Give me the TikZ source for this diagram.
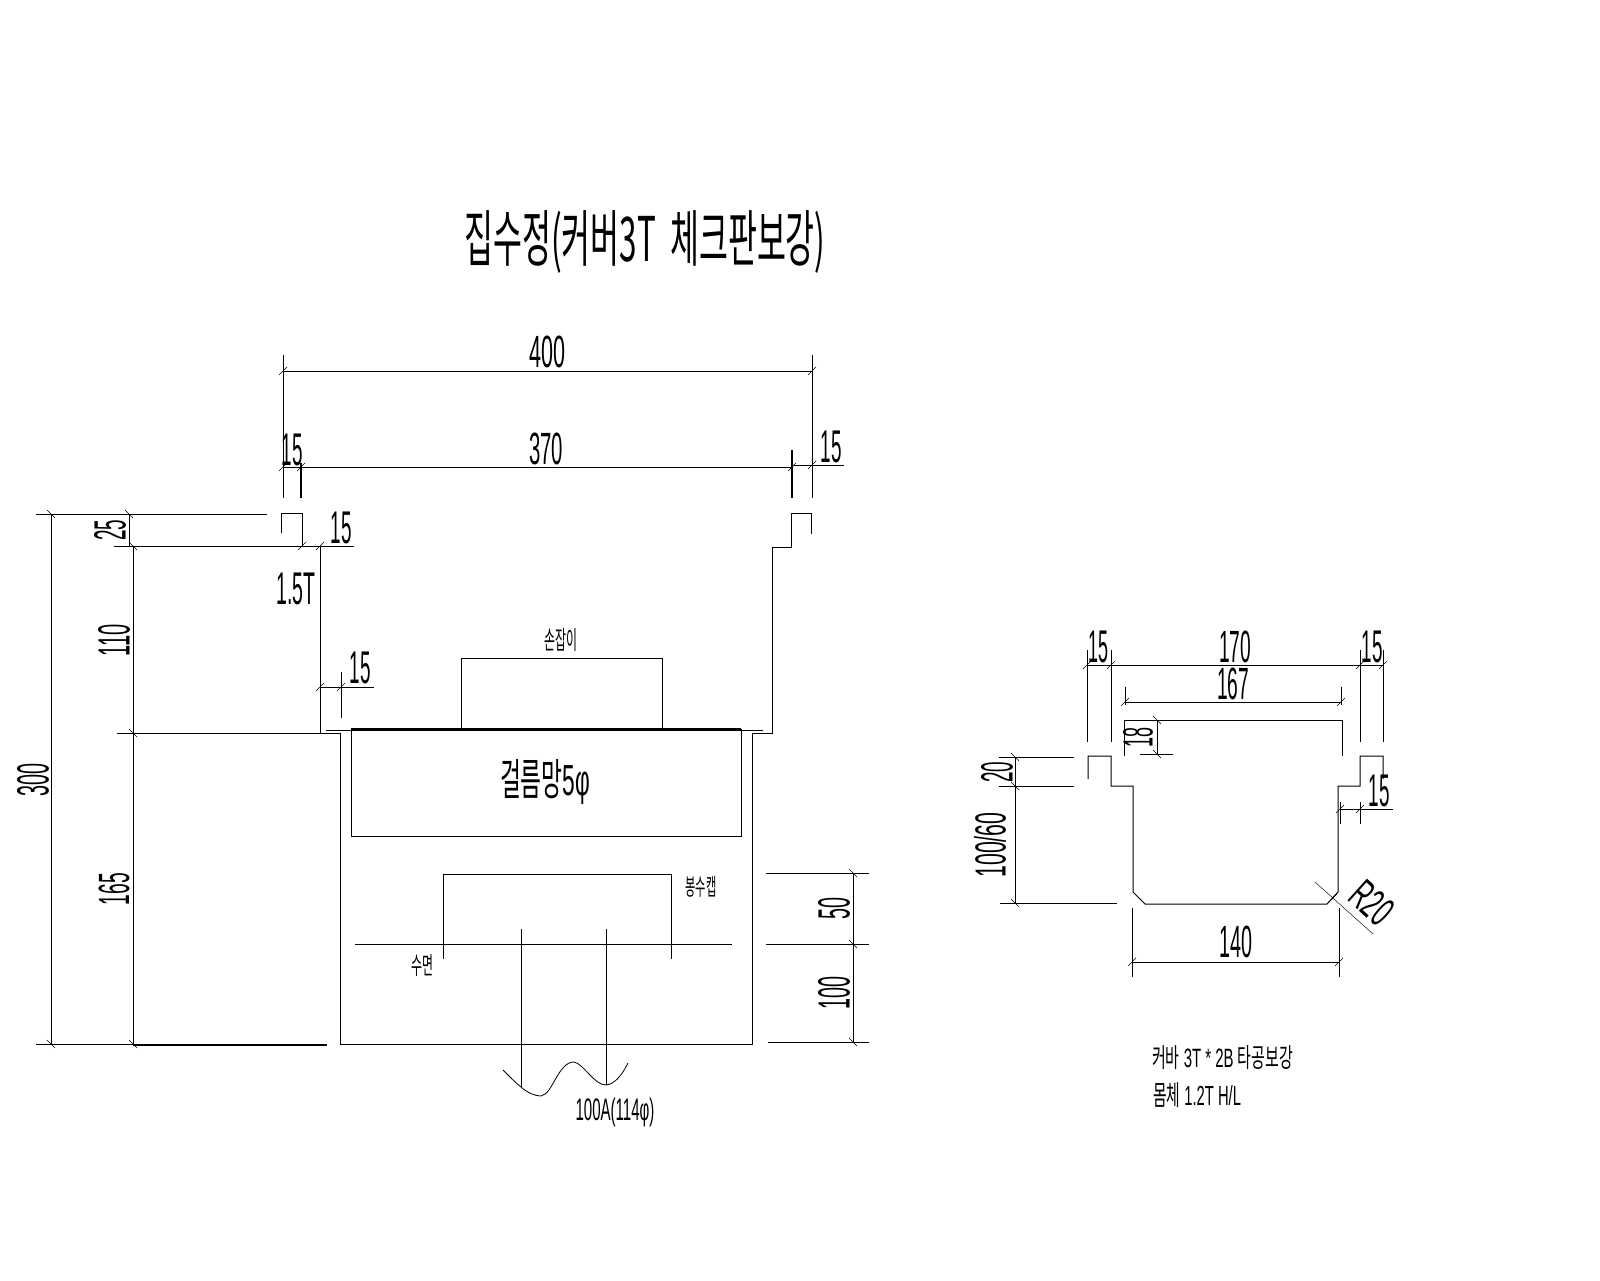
\documentclass[tikz,border=0pt]{standalone}
\usepackage{fontspec}
\setmainfont{Liberation Sans}
\newfontfamily\kr{Noto Sans CJK KR}
\newcommand{\fitt}[3]{\resizebox*{#1pt}{#2pt}{#3}}
\tikzset{
  every node/.style={inner sep=0pt,outer sep=0pt,text=black},
  body/.style={line width=1pt,line join=miter},
  heavy/.style={line width=1.8pt},
  dimline/.style={line width=.9pt},
  tickline/.style={line width=.45pt},
}
\newcommand{\tkh}[1]{\draw[tickline] (#1)+(-4,4)--+(4,-4);}
\newcommand{\tkv}[1]{\draw[tickline] (#1)+(-4,-4)--+(4,4);}
\begin{document}
\begin{tikzpicture}[x=1pt,y=-1pt]
\useasboundingbox[fill=white] (0,0) rectangle (1600,1280);
% title
\node (title) at (645,242) {\fitt{361}{63}{\kr 집수정(커버3T\ \ 체크판보강)}};
% ---- left drawing body
\draw[body] (281,533)--(281,513)--(302,513)--(302,546);
\draw[body] (320,546)--(320,733)--(340,733)--(340,1044)--(752,1044)--(752,733)--(772,733)--(772,547)--(791,547)--(791,513)--(811,513)--(811,534);
\draw[body] (326,730)--(763,730);
\draw[heavy] (351,729)--(741,729);
\draw[body] (351,729)--(351,836)--(741,836)--(741,729);
\draw[body] (461,729)--(461,658)--(662,658)--(662,729);
\draw[body] (443,959)--(443,874)--(671,874)--(671,959);
\draw[body] (355,944)--(732,944);
\draw[body] (521,929)--(521,1087);
\draw[body] (606,929)--(606,1085);
\draw[line width=.8pt] (503,1070) .. controls (512,1079) and (516,1083) .. (521,1087)
  .. controls (528,1093) and (535,1096) .. (541,1096)
  .. controls (553,1094) and (558,1062) .. (574,1062)
  .. controls (584,1064) and (594,1085) .. (606,1085)
  .. controls (615,1084) and (622,1075) .. (628,1063);
\draw[heavy] (133,1045)--(327,1045);
% left dims
\draw[dimline] (36,514)--(267,514);
\draw[dimline] (114,546)--(354,546);
\draw[dimline] (117,733)--(327,733);
\draw[dimline] (51,514)--(51,1044);
\draw[dimline] (36,1044)--(133,1044);
\draw[dimline] (129,514)--(129,546);
\draw[dimline] (133,546)--(133,1044);
\tkv{51,514}\tkv{51,1044}\tkv{129,514}\tkv{133,546}\tkv{133,733}\tkv{133,1044}
\tkh{302,546}\tkh{320,546}
% top dims
\draw[dimline] (283,355)--(283,498);
\draw[dimline] (812,355)--(812,498);
\draw[dimline] (283,371)--(812,371);
\draw[dimline] (283,467)--(301,467);
\draw[dimline] (301,467)--(792,467);
\draw[dimline] (792,465)--(844,465);
\draw[heavy] (301,463)--(301,498);
\draw[heavy] (792,450)--(792,498);
\tkh{283,371}\tkh{812,371}\tkh{283,467}\tkh{301,467}\tkh{792,467}\tkh{812,465}
% small 15
\draw[dimline] (320,687)--(374,687);
\draw[dimline] (341,672)--(341,718);
\tkh{320,687}\tkh{341,687}
% right dims of left drawing
\draw[dimline] (853,873)--(853,1042);
\draw[dimline] (766,873)--(869,873);
\draw[dimline] (766,944)--(869,944);
\draw[dimline] (768,1042)--(869,1042);
\tkv{853,873}\tkv{853,944}\tkv{853,1042}
% labels left
\node (l400) at (547,352) {\fitt{36}{32}{400}};
\node (l370) at (546,449) {\fitt{34}{32}{370}};
\node (l15a) at (292,450) {\fitt{21}{32}{15}};
\node (l15b) at (831,447) {\fitt{21}{32}{15}};
\node (l15c) at (341,528) {\fitt{21}{32}{15}};
\node (l15d) at (360,668) {\fitt{21}{32}{15}};
\node (l15t) at (296,589) {\fitt{39}{32}{1.5T}};
\node[rotate=90] (l25) at (110,530) {\fitt{21}{32}{25}};
\node[rotate=90] (l110) at (114,640) {\fitt{32}{32}{110}};
\node[rotate=90] (l165) at (114,889) {\fitt{32}{31}{165}};
\node[rotate=90] (l300) at (33,780) {\fitt{33}{32}{300}};
\node[rotate=90] (l50) at (834,908) {\fitt{22}{32}{50}};
\node[rotate=90] (l100) at (834,993) {\fitt{33}{32}{100}};
\node (lhandle) at (561,640) {\fitt{33}{23}{\kr 손잡이}};
\node (lscreen) at (545,782) {\fitt{90}{45}{\kr 걸름망\rmfamily 5φ}};
\node (lcap) at (701,887) {\fitt{31}{21}{\kr 봉수캡}};
\node (lwater) at (422,965) {\fitt{22}{22}{\kr 수면}};
\node (lpipe) at (615,1112) {\fitt{79}{29}{100A(114φ)}};
% ---- right drawing body
\draw[body] (1088,779)--(1088,756)--(1111,756)--(1111,786)--(1133,786)--(1133,892)--(1145,904)--(1327,904)--(1338,892)--(1338,786)--(1360,786)--(1360,756)--(1383,756)--(1383,779);
\draw[body] (1124,756)--(1124,720)--(1342,720)--(1342,756);
% right dims
\draw[dimline] (1087,650)--(1087,742);
\draw[dimline] (1111,650)--(1111,742);
\draw[dimline] (1360,650)--(1360,742);
\draw[dimline] (1383,650)--(1383,742);
\draw[dimline] (1087,665)--(1383,665);
\tkh{1087,665}\tkh{1111,665}\tkh{1360,665}\tkh{1383,665}
\draw[dimline] (1125,687)--(1125,705);
\draw[dimline] (1341,687)--(1341,705);
\draw[dimline] (1125,702)--(1341,702);
\tkh{1125,702}\tkh{1341,702}
\draw[dimline] (1173,720)--(1124,720);
\draw[dimline] (1140,754)--(1173,754);
\draw[dimline] (1157,720)--(1157,754);
\tkv{1157,720}\tkv{1157,754}
\draw[dimline] (999,757)--(1074,757);
\draw[dimline] (999,786)--(1074,786);
\draw[dimline] (1000,903)--(1117,903);
\draw[dimline] (1015,757)--(1015,903);
\tkv{1015,757}\tkv{1015,786}\tkv{1015,903}
\draw[dimline] (1132,908)--(1132,977);
\draw[dimline] (1339,908)--(1339,977);
\draw[dimline] (1132,962)--(1339,962);
\tkh{1132,962}\tkh{1339,962}
\draw[dimline] (1340,809)--(1393,809);
\draw[dimline] (1340,802)--(1340,824);
\draw[dimline] (1360,802)--(1360,824);
\tkh{1340,809}\tkh{1360,809}
\draw[tickline] (1315,882)--(1373,934);
\tkh{1333,898}
% labels right
\node (r15a) at (1098,647) {\fitt{20}{32}{15}};
\node (r170) at (1235,647) {\fitt{32}{32}{170}};
\node (r15b) at (1372,647) {\fitt{21}{32}{15}};
\node (r167) at (1233,684) {\fitt{32}{32}{167}};
\node[rotate=90] (r18) at (1138,737) {\fitt{20}{30}{18}};
\node[rotate=90] (r20) at (997,772) {\fitt{21}{32}{20}};
\node[rotate=90] (r10060) at (990,845) {\fitt{65}{32}{100/60}};
\node (r15c) at (1379,791) {\fitt{21}{32}{15}};
\node[rotate=-42] (r20b) at (1372,903) {\fitt{42}{30}{R20}};
\node (r140) at (1236,942) {\fitt{33}{32}{140}};
\node[anchor=west] (n1) at (1152,1058) {\fitt{141}{24}{\kr 커바\rmfamily\ 3T * 2B \kr 타공보강}};
\node[anchor=west] (n2) at (1153,1095) {\fitt{88}{25}{\kr 몸체\rmfamily\ 1.2T H/L}};
\end{tikzpicture}
\end{document}
